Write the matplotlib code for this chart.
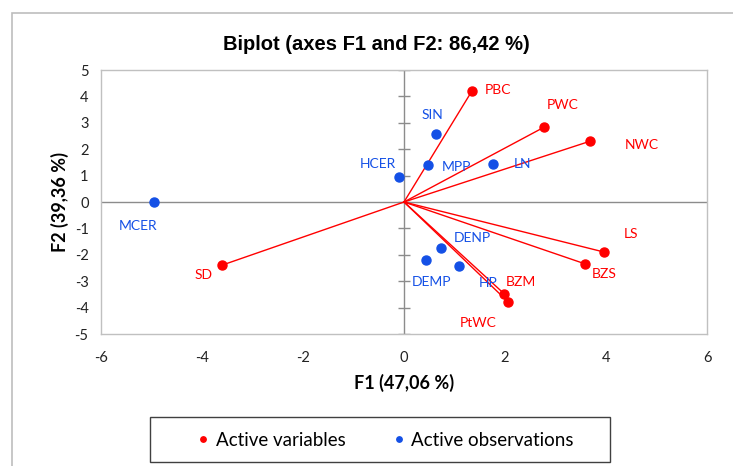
import matplotlib
matplotlib.use("Agg")
import matplotlib.pyplot as plt
from matplotlib.patches import Rectangle

# Active variables (red vectors)
var_names = ["PBC", "PWC", "NWC", "LS", "BZS", "BZM", "PtWC", "SD"]
var_f1 = [1.35, 2.77, 3.68, 3.97, 3.58, 1.98, 2.06, -3.60]
var_f2 = [4.22, 2.83, 2.30, -1.90, -2.34, -3.47, -3.78, -2.39]

# Active observations (blue points)
obs_names = ["SIN", "MPP", "LN", "HCER", "DENP", "DEMP", "HP", "MCER"]
obs_f1 = [0.64, 0.48, 1.77, -0.09, 0.73, 0.43, 1.08, -4.95]
obs_f2 = [2.58, 1.39, 1.45, 0.95, -1.76, -2.18, -2.41, 0.00]

xticks = [-6, -4, -2, 0, 2, 4, 6]
yticks = [-5, -4, -3, -2, -1, 0, 1, 2, 3, 4, 5]

# label offsets in pixels
var_off = {"PBC": (26, 1), "PWC": (19, 22), "NWC": (52, -4), "LS": (27, 18),
           "BZS": (19, -10), "BZM": (17, 12), "PtWC": (-30, -21), "SD": (-19, -10)}
obs_off = {"SIN": (-4, 19), "MPP": (28, -2), "LN": (29, 0), "HCER": (-22, 13),
           "DENP": (31, 10), "DEMP": (6, -22), "HP": (30, -17), "MCER": (-16, -24)}

RED = "#FF0000"
BLUE = "#1450E6"
plt.rcParams["font.family"] = ["Lato", "DejaVu Sans"]
plt.rcParams["axes.unicode_minus"] = False

fig = plt.figure(figsize=(7.33, 4.66), dpi=100)
W, H = 733, 466
ax = fig.add_axes([101 / W, 1 - 334 / H, 606 / W, 264 / H])

ax.set_xlim(-6, 6)
ax.set_ylim(-5, 5)
ax.set_xticks(xticks)
ax.set_yticks(yticks)
ax.tick_params(length=0, labelsize=10.5, colors="#222222")
ax.tick_params(axis="x", pad=12)
ax.tick_params(axis="y", pad=9)
for s in ax.spines.values():
    s.set_color("#C0C0C0")
    s.set_linewidth(1.0)

# center axes
ax.axhline(0, color="#8C8C8C", lw=1.0, zorder=1)
ax.axvline(0, color="#8C8C8C", lw=1.0, zorder=1)
ax.plot([0] * len(yticks), yticks, ls="none", marker="_", ms=8, mew=1.0,
        color="#8C8C8C", zorder=1)

for n, x, y in zip(var_names, var_f1, var_f2):
    ax.plot([0, x], [0, y], color=RED, lw=1.0, zorder=2)
ax.plot(var_f1, var_f2, "o", color=RED, ms=6.5, zorder=3, label="Active variables")
ax.plot(obs_f1, obs_f2, "o", color=BLUE, ms=6.5, zorder=3, label="Active observations")

for n, x, y in zip(var_names, var_f1, var_f2):
    ax.annotate(n, (x, y), xytext=var_off[n], textcoords="offset pixels",
                ha="center", va="center", color=RED, fontsize=10)
for n, x, y in zip(obs_names, obs_f1, obs_f2):
    ax.annotate(n, (x, y), xytext=obs_off[n], textcoords="offset pixels",
                ha="center", va="center", color=BLUE, fontsize=10)

fig.text(404 / W, 1 - 383 / H, "F1 (47,06 %)", ha="center", va="center",
         fontsize=13, fontweight="bold")
fig.text(60 / W, 1 - 202 / H, "F2 (39,36 %)", ha="center", va="center",
         rotation=90, fontsize=13, fontweight="bold")
fig.text(376 / W, 1 - 45 / H, "Biplot (axes F1 and F2: 86,42 %)", ha="center",
         va="center", fontsize=14.5, fontweight="bold",
         family=["Liberation Sans Narrow", "Liberation Sans", "DejaVu Sans"])

# outer chart frame
fig.patches.append(Rectangle((12 / W, -0.1), 1.0, 1 - 13 / H + 0.1,
                             transform=fig.transFigure, fill=False,
                             edgecolor="#BDBDBD", lw=1.2))
# legend box
fig.patches.append(Rectangle((150 / W, 1 - 462 / H), 460 / W, 45 / H,
                             transform=fig.transFigure, fill=False,
                             edgecolor="#404040", lw=1.0))
h, l = ax.get_legend_handles_labels()
fig.legend(h, l, loc="center", bbox_to_anchor=(386 / W, 1 - 440 / H), ncol=2,
           frameon=False, fontsize=13.5, markerscale=0.6, handlelength=0.5,
           handletextpad=0.4, columnspacing=2.6)

fig.savefig("out.png", dpi=100)
